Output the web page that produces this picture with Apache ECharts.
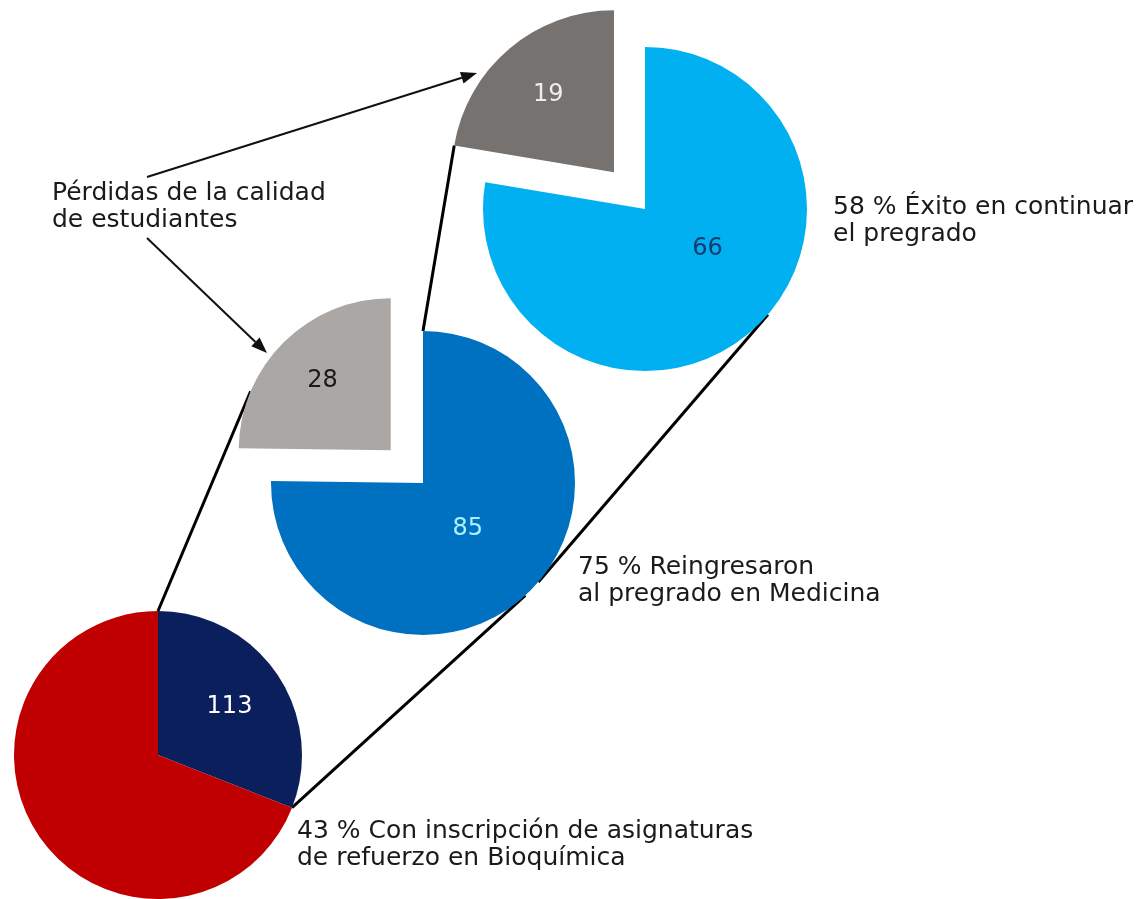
<!DOCTYPE html>
<html>
<head>
<meta charset="utf-8">
<script src="https://cdn.jsdelivr.net/npm/echarts@6/dist/echarts.min.js"></script>
<style>
    html, body { margin: 0; padding: 0; background: #fff; }
    #chart { width: 1142px; height: 899px; }
</style>
</head>
<body>
<div id="chart"></div>
<script>
// datos de cada pastel (el primer valor arranca en las 12 y gira en sentido horario)
var bottomNames = ['Con inscripción de asignaturas de refuerzo', 'Resto'];
var bottomValues = [113, 252];
var middleNames = ['Reingresaron al pregrado', 'Pérdidas'];
var middleValues = [85, 28];
var topNames = ['Éxito en continuar', 'Pérdidas'];
var topValues = [66, 19];

var bottomNote = '43 % Con inscripción de asignaturas\nde refuerzo en Bioquímica';
var middleNote = '75 % Reingresaron\nal pregrado en Medicina';
var topNote = '58 % Éxito en continuar\nel pregrado';
var lossNote = 'Pérdidas de la calidad\nde estudiantes';

(function () {
    var FONT = '"DejaVu Sans", Verdana, sans-serif';

    // geometria de los pasteles; k = radio relativo de la etiqueta, turn = giro de la etiqueta (grados)
    var pies = [
        {center: [158, 755], radius: 144, offset: 0, names: bottomNames, values: bottomValues,
            colors: ['#0a1f5c', '#c00000'], labelColors: ['#ffffff', '#ffffff'], selected: [false, false],
            k: [0.58, 0.5], turn: [0, 0]},
        {center: [423, 483], radius: 152, offset: 46, names: middleNames, values: middleValues,
            colors: ['#0070c0', '#aaa7a5'], labelColors: ['#aef0ff', '#1a1a1a'], selected: [false, true],
            k: [0.40, 0.62], turn: [0, 0]},
        {center: [645, 209], radius: 162, offset: 48, names: topNames, values: topValues,
            colors: ['#00b0f0', '#76726f'], labelColors: ['#123a6e', '#eeeeee'], selected: [false, true],
            k: [0.44, 0.61], turn: [-18, 0]}
    ];

    function pt(c, r, deg) {
        var a = deg * Math.PI / 180;
        return [c[0] + r * Math.sin(a), c[1] - r * Math.cos(a)];
    }

    // angulos (grados, horario desde las 12) de cada porcion
    function sliceAngles(values) {
        var total = 0, acc = 0, out = [];
        for (var i = 0; i < values.length; i++) total += values[i];
        for (i = 0; i < values.length; i++) {
            var start = acc / total * 360;
            acc += values[i];
            out.push([start, acc / total * 360]);
        }
        return out;
    }

    // punto de tangencia desde p hacia el circulo (c, r); side -1 izquierda, +1 derecha
    function tangent(p, c, r, side) {
        var dx = c[0] - p[0], dy = c[1] - p[1], d = Math.sqrt(dx * dx + dy * dy);
        var ang = Math.atan2(dy, dx) + side * Math.asin(r / d), L = Math.sqrt(d * d - r * r);
        return [p[0] + L * Math.cos(ang), p[1] + L * Math.sin(ang)];
    }

    var angB = sliceAngles(bottomValues), angM = sliceAngles(middleValues), angT = sliceAngles(topValues);
    var midGray = pt(pies[1].center, pies[1].offset, (angM[1][0] + angM[1][1]) / 2);
    var topGray = pt(pies[2].center, pies[2].offset, (angT[1][0] + angT[1][1]) / 2);

    var pC = pt(pies[0].center, pies[0].radius, 0);
    var pA = pt(pies[0].center, pies[0].radius, angB[0][1]);
    var pD = pt(pies[1].center, pies[1].radius, 0);

    // tangente comun exterior entre el pastel del medio y el de arriba
    var c1 = pies[1].center, r1 = pies[1].radius, c2 = pies[2].center, r2 = pies[2].radius;
    var vx = c2[0] - c1[0], vy = c2[1] - c1[1], D = Math.sqrt(vx * vx + vy * vy);
    var ux = vx / D, uy = vy / D, h = (r1 - r2) / D, s = Math.sqrt(1 - h * h);
    var nx = h * ux - s * uy, ny = h * uy + s * ux;

    var connectors = [
        [pC, tangent(pC, midGray, pies[1].radius, -1)],
        [pA, tangent(pA, pies[1].center, pies[1].radius, 1)],
        [pD, tangent(pD, topGray, pies[2].radius, -1)],
        [[c1[0] + r1 * nx, c1[1] + r1 * ny], [c2[0] + r2 * nx, c2[1] + r2 * ny]]
    ];

    var arrows = [
        [[147, 177], [477, 73]],
        [[147, 238], [267, 353]]
    ];

    var graphic = [];
    connectors.forEach(function (l) {
        graphic.push({type: 'line', z: 0, silent: true,
            shape: {x1: l[0][0], y1: l[0][1], x2: l[1][0], y2: l[1][1]},
            style: {stroke: '#000', lineWidth: 3}});
    });
    arrows.forEach(function (a) {
        var dx = a[1][0] - a[0][0], dy = a[1][1] - a[0][1], L = Math.sqrt(dx * dx + dy * dy);
        var ex = dx / L, ey = dy / L, len = 16, w = 6;
        var bx = a[1][0] - ex * len, by = a[1][1] - ey * len;
        graphic.push({type: 'line', z: 5, silent: true,
            shape: {x1: a[0][0], y1: a[0][1], x2: bx, y2: by},
            style: {stroke: '#111', lineWidth: 2}});
        graphic.push({type: 'polygon', z: 5, silent: true,
            shape: {points: [a[1], [bx - ey * w, by + ex * w], [bx + ey * w, by - ex * w]]},
            style: {fill: '#111'}});
    });

    var notes = [
        [lossNote, 52, 180],
        [topNote, 833, 194],
        [middleNote, 578, 554],
        [bottomNote, 297, 818]
    ];
    notes.forEach(function (n) {
        graphic.push({type: 'text', z: 5, silent: true, x: n[1], y: n[2],
            style: {text: n[0], fontFamily: FONT, fontSize: 25, lineHeight: 27,
                fill: '#1a1a1a', verticalAlign: 'top', align: 'left'}});
    });

    var series = pies.map(function (p, si) {
        return {
            type: 'pie',
            center: p.center,
            radius: p.radius,
            startAngle: 90,
            clockwise: true,
            selectedMode: 'multiple',
            selectedOffset: p.offset,
            avoidLabelOverlap: false,
            silent: true,
            z: 2,
            itemStyle: {borderWidth: 0},
            label: {show: true, position: 'inside', fontFamily: FONT, fontSize: 24, formatter: '{c}'},
            labelLine: {show: false},
            emphasis: {disabled: true},
            labelLayout: function (params) {
                var r = params.labelRect, i = params.dataIndex;
                var lx = r.x + r.width / 2 - p.center[0], ly = r.y + r.height / 2 - p.center[1];
                var len = Math.sqrt(lx * lx + ly * ly) || 1;
                var ex = lx / len, ey = ly / len;
                var t = p.turn[i] * Math.PI / 180;
                var rx = ex * Math.cos(t) - ey * Math.sin(t), ry = ex * Math.sin(t) + ey * Math.cos(t);
                var kr = p.k[i] * p.radius, hr = 0.5 * p.radius;
                return {dx: rx * kr - ex * hr, dy: ry * kr - ey * hr};
            },
            data: p.values.map(function (v, i) {
                return {
                    name: p.names[i],
                    value: v,
                    selected: p.selected[i],
                    itemStyle: {color: p.colors[i]},
                    label: {color: p.labelColors[i], show: !(si === 0 && i === 1)}
                };
            })
        };
    });

    var chart = echarts.init(document.getElementById('chart'), null, {renderer: 'canvas'});
    chart.setOption({
        animation: false,
        backgroundColor: '#ffffff',
        graphic: graphic,
        series: series
    });
})();
</script>
</body>
</html>
